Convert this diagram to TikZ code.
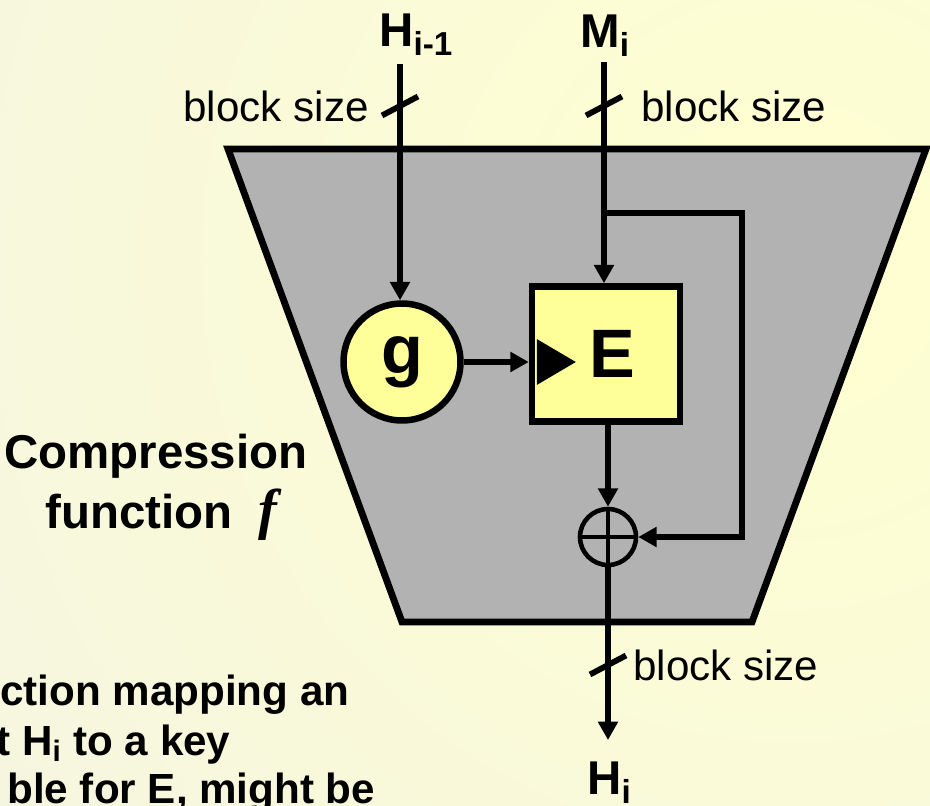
\documentclass[tikz,border=0pt]{standalone}
\usepackage{fontspec}
\setmainfont{Liberation Sans}
\newfontfamily\timesfont{Liberation Serif}
\usepackage{tikz}
\usetikzlibrary{positioning,arrows.meta,calc}
\definecolor{trapgray}{RGB}{178,178,178}
\definecolor{boxyellow}{RGB}{255,255,153}
\definecolor{bgyellow}{RGB}{255,255,208}
\definecolor{bggray}{RGB}{240,241,232}

\begin{document}
\begin{tikzpicture}[x=0.02cm, y=-0.02cm,
  wire/.style={line width=3.3pt},
  arr/.style={wire, -{Triangle[length=10.5pt, width=11pt]}},
  tick/.style={line width=3.3pt},
  trap/.style={draw, line width=3.9pt, fill=trapgray},
  fnbox/.style={draw, line width=3.7pt, fill=boxyellow, minimum width=2.96cm, minimum height=2.7cm,
               inner sep=0pt, font=\fontsize{39}{44}\selectfont\bfseries},
  fncirc/.style={fnbox, circle, minimum size=2.34cm},
  xorc/.style={draw, circle, line width=2.6pt, minimum size=1.12cm, inner sep=0pt},
  io/.style={inner sep=0pt, anchor=base west, font=\fontsize{27}{30}\selectfont\bfseries},
  sizelbl/.style={inner sep=0pt, font=\fontsize{24}{28}\selectfont},
  cmp/.style={inner sep=0pt, anchor=base west, font=\fontsize{27}{32}\selectfont\bfseries},
  note/.style={inner sep=0pt, anchor=base west, font=\fontsize{24}{28}\selectfont\bfseries}]
\useasboundingbox (0,0) rectangle (930,805);
\clip (0,0) rectangle (930,805);
\shade[inner color=bgyellow, outer color=bggray] (790,260) circle [radius=30cm];
% compression function body
\draw[trap] (228,149) -- (926,149) -- (752,622) -- (402,622) -- cycle;
\node[fncirc] (g) at (402,362) {g};
\node[fnbox] (E) at (606,354) {\hspace*{0.25cm}E};
\node[xorc] (xor) at (608,537) {};
\draw[line width=2.6pt] (xor.north) -- (xor.south) (xor.west) -- (xor.east);
\coordinate (hin) at (400,64);
\coordinate (min) at (604,62);
\coordinate (split) at (604,213);
\coordinate (fb) at (742,537);
\coordinate (hend) at (608,740);
\coordinate (t1) at (400,106);
\coordinate (t2) at (604,106);
\coordinate (t3) at (608,665);
\draw[arr] (hin) -- (hin |- g.north);
\draw[arr] (min) -- (min |- E.north);
\draw[arr] (split) -| (fb) -- (xor.east);
\draw[arr] (g.east) -- (g.east -| E.west);
\fill ($(g.east -| E.west)+(8,-23)$) -- ($(g.east -| E.west)+(8,23)$) -- ($(g.east -| E.west)+(47,0)$) -- cycle;
\draw[arr] (xor |- E.south) -- (xor.north);
\draw[arr] (xor.south) -- (hend);
\foreach \t in {t1,t2,t3} \draw[tick] ($(\t)+(-18,9.5)$) -- ($(\t)+(18,-9.5)$);
% labels
\node[io] (hprev) at (379,46) {H\textsubscript{i-1}};
\node[io] (msg) at (580,47) {M\textsubscript{i}};
\node[io] (hnext) at (587,794) {H\textsubscript{i}};
\node[sizelbl, left=0.62cm of t1] (bs1) {block size};
\node[sizelbl, right=0.74cm of t2] (bs2) {block size};
\node[sizelbl, right=0.5cm of t3] (bs3) {block size};
\node[cmp] (cmpa) at (4,468) {Compression};
\node[cmp] (cmpb) at (45,528) {function\ \ {\timesfont\itshape\fontsize{32}{32}\selectfont f}};
\node[note] (n1) at (0,705) {ction mapping an};
\node[note] (n2) at (-4,755) {t H\textsubscript{i} to a key};
\node[note] (n3) at (7,803) {ble for E, might be};
\end{tikzpicture}
\end{document}
